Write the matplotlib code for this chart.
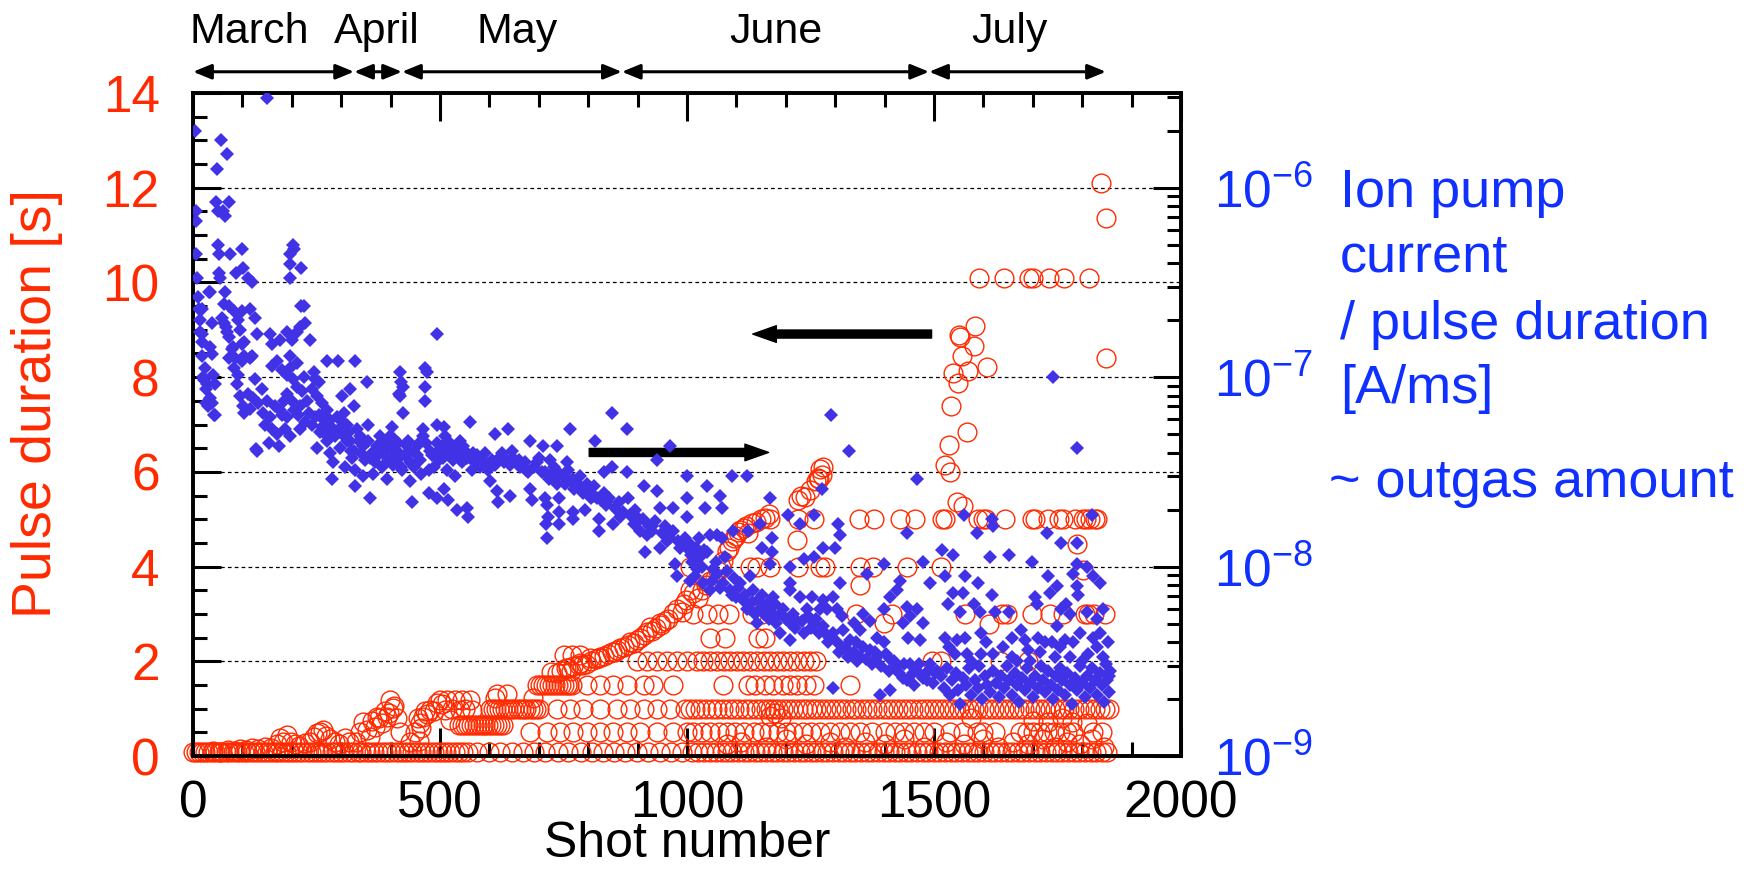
import matplotlib.pyplot as plt
import numpy as np
from matplotlib.ticker import MultipleLocator, FixedLocator, LogLocator, NullFormatter
import matplotlib.transforms as mtransforms

# ---- data ----
# ion pump current / pulse duration, in units of 1e-9 A/ms : (shot, value)
blue_march = [(4, 2000), (56, 1780), (68, 1500), (48, 1260), (150, 2990), (5, 750), (5, 668), (47, 841),
              (50, 750), (60, 750), (65, 708), (73, 841), (6, 447), (50, 501), (52, 447), (75, 447), (99, 473),
              (8, 335), (52, 355), (54, 335), (87, 355), (102, 376), (112, 335), (119, 316), (33, 282),
              (196, 398), (196, 447), (202, 501), (204, 473), (219, 376), (196, 335), (219, 237),
              (11, 266), (34, 282), (65, 282), (18, 230), (14, 200), (18, 168), (18, 154), (34, 145), (38, 133),
              (18, 130), (24, 112), (21, 100), (28, 91.7), (34, 77.2), (31, 70.8), (45, 63.1), (41, 103),
              (62, 244), (72, 237), (82, 224), (99, 224), (115, 230), (126, 205), (92, 200), (62, 194), (68, 173),
              (95, 178), (38, 194), (78, 141), (99, 150), (85, 126), (99, 122), (115, 126), (129, 168), (156, 168),
              (159, 150), (176, 158), (190, 173), (200, 158), (210, 173), (217, 183), (227, 194), (224, 237),
              (237, 158), (82, 112), (92, 103), (88, 91.7), (95, 79.4), (102, 70.8), (112, 81.8), (126, 97.2),
              (122, 77.2), (132, 72.9), (142, 65), (146, 56.2), (156, 61.4), (159, 53.1), (153, 44.7), (173, 43.5),
              (129, 41), (170, 50.1), (176, 66.8), (190, 61.4), (186, 53.1), (196, 48.7), (139, 86.6), (159, 115),
              (170, 122), (180, 109), (190, 103), (196, 112), (203, 97.2), (210, 119), (196, 130), (190, 81.8),
              (200, 75), (210, 89.1), (220, 84.1), (217, 70.8), (217, 53.1), (227, 57.8), (230, 75), (240, 86.6),
              (247, 97.2), (224, 100), (244, 106), (254, 94.4), (250, 79.4), (261, 72.9), (271, 66.8), (271, 122),
              (294, 122), (318, 86.6), (301, 79.4), (247, 61.4), (261, 54.6), (250, 42.2), (271, 46), (278, 59.6),
              (284, 53.1), (291, 61.4), (305, 65), (311, 56.2), (301, 50.1), (278, 39.8), (284, 35.5), (281, 29),
              (308, 33.5), (298, 42.2), (318, 46), (325, 41), (325, 70.8),
              (12, 230), (58, 205), (67, 183), (73, 163), (15, 173), (81, 145), (104, 154), (73, 126), (104, 130),
              (119, 130), (23, 97), (44, 92), (27, 87), (38, 73), (27, 73), (42, 63), (104, 65), (115, 68),
              (127, 42), (150, 75), (165, 70.8), (180, 63.1), (185, 75), (205, 66.8), (212, 63.1), (235, 65),
              (240, 56.2), (255, 63.1), (258, 51.6), (265, 59.6), (268, 50.1), (275, 56.2), (288, 48.7),
              (295, 53.1), (300, 59.6), (312, 46), (315, 51.6), (320, 41), (322, 37.6)]
blue_april = [(328, 122), (331, 53.1), (338, 48.7), (345, 43.5), (328, 32.5), (328, 26.6), (345, 29.9),
              (358, 23), (365, 30.8), (358, 37.6), (355, 56.2), (372, 43.5), (379, 48.7), (385, 39.8),
              (382, 33.5), (392, 29), (402, 54.6), (406, 47.3), (412, 41), (416, 37.6), (419, 106), (421, 94),
              (417, 81.8), (352, 94.4), (399, 48.7), (355, 46), (419, 79.4), (335, 46), (340, 39.8), (348, 36.5),
              (362, 40), (368, 35.5), (375, 38.7), (388, 44.7), (395, 36.5), (398, 42.2), (405, 34.5),
              (410, 38.7), (415, 44.7), (420, 33.5)]
blue_may = [(426, 89.1), (426, 65), (423, 32.5), (439, 28.2), (443, 21.8), (433, 43.5), (439, 35.5), (453, 43.5),
            (453, 38.7), (466, 48.7), (470, 112), (473, 106), (470, 89.1), (470, 75), (466, 53.1), (477, 32.5),
            (477, 24.4), (480, 41), (493, 168), (493, 56.2), (493, 44.7), (493, 23),
            (430, 38.7), (436, 46), (445, 41), (448, 33.5), (458, 44.7), (460, 36.5), (462, 30.8), (472, 44.7),
            (484, 38.7), (488, 33.5), (496, 41), (498, 36.5),
            (507, 54.6), (510, 48.7), (503, 43.5), (520, 44.7), (534, 41), (540, 46), (547, 43.5), (561, 57.8),
            (567, 39.8), (554, 37.6), (527, 36.5), (514, 32.5), (530, 29.9), (507, 25.8), (517, 22.4), (534, 20),
            (554, 20.5), (557, 18.3), (544, 35.5), (564, 32.5), (571, 35.5), (591, 39.8), (584, 35.5),
            (598, 32.5), (601, 28.2), (615, 25.1), (618, 21.8), (611, 50.1), (638, 53.1), (625, 39.8),
            (635, 36.5), (645, 41), (642, 34.5), (655, 35.5), (662, 33.5), (672, 35.5), (679, 31.6), (682, 25.8),
            (686, 22.4), (642, 23.7), (682, 46), (696, 35.5), (706, 31.6), (709, 43.5), (713, 23), (716, 21.1),
            (719, 18.3), (716, 14.1), (715, 16.8), (723, 36.5), (730, 33.5), (736, 43.5), (743, 30.8),
            (736, 27.4), (740, 23), (740, 19.4), (740, 16.8), (756, 35.5), (760, 32.5), (763, 53.1), (770, 29),
            (770, 19.4), (770, 17.8), (777, 26.6), (784, 29.9), (790, 24.4), (797, 27.4), (794, 20), (811, 26.6),
            (814, 46), (817, 23), (821, 17.8), (821, 15.4), (831, 31.6), (831, 24.4), (837, 21.8), (848, 33.5),
            (848, 65), (851, 16.8), (858, 20), (864, 18.3),
            (505, 37.6), (512, 41), (522, 38.7), (530, 42.2), (538, 37.6), (550, 41), (560, 37.6), (575, 38.7),
            (580, 33.5), (590, 35.5), (605, 36.5), (612, 34.5), (620, 37.6), (630, 35.5), (648, 37.6),
            (660, 36.5), (668, 33.5), (675, 32.5), (690, 33.5), (700, 37.6), (712, 31.6), (720, 29), (728, 31.6),
            (735, 30.8), (748, 29.9), (752, 27.4), (765, 28.2), (772, 25.8), (780, 27.4), (788, 25.1),
            (800, 25.1), (805, 23), (812, 23.7), (825, 22.4), (835, 21.1), (842, 23), (855, 20.5), (862, 21.8)]
blue_june = [(870, 19.4), (885, 18.8), (895, 20), (900, 17.3), (910, 17.8), (922, 16.3), (930, 15.4),
             (935, 17.3), (950, 15), (955, 16.3), (965, 14.1), (982, 13.7), (990, 13.3), (995, 14.1),
             (878, 53.1), (878, 31.6), (881, 23), (892, 16.8), (898, 18.3), (905, 15.4), (912, 26.6), (918, 14.6),
             (915, 11.9), (929, 16.3), (939, 25.1), (939, 36.5), (946, 12.6), (946, 20.5), (959, 13.7),
             (966, 43.5), (972, 15.4), (972, 20.5), (976, 10.3), (979, 8.91), (986, 12.6), (1000, 12.6),
             (1000, 23), (1000, 29.9), (1000, 18.3),
             (1040, 26.6), (1067, 23.7), (1090, 29.9), (1121, 29.9), (1036, 20.5), (1070, 20.5), (1168, 23),
             (1205, 18.8), (1229, 16.8), (1256, 18.8), (1273, 25.8), (1306, 16.8), (1445, 15), (1047, 14.6),
             (1060, 14.6), (1070, 14.1), (1094, 15.4), (1124, 15.4), (1148, 16.8), (1151, 12.6), (1171, 14.1),
             (1171, 11.9), (1209, 10), (1236, 10.9), (1256, 11.2), (1276, 12.6), (1300, 12.6), (1310, 14.6),
             (1013, 12.2), (1026, 11.2), (1020, 9.72), (1006, 8.41), (1033, 8.18), (1046, 7.5), (1053, 9.72),
             (1077, 11.2), (1060, 9.17), (1073, 8.18), (1087, 7.5), (1107, 8.18), (1100, 6.88), (1114, 6.68),
             (1134, 7.5), (1144, 6.68), (1127, 5.96), (1148, 5.96), (1161, 6.31), (1175, 6.88), (1165, 5.31),
             (1141, 5.01), (1181, 5.01), (1188, 4.47), (1209, 5.01), (1209, 8.18), (1229, 6.88), (1222, 5.16),
             (1242, 5.96), (1256, 5.01), (1209, 4.1), (1236, 4.47), (1276, 4.87), (1283, 5.96), (1276, 6.68),
             (1296, 6.88), (1303, 5.96), (1310, 8.18), (1313, 5.46), (1290, 4.22), (1303, 3.98), (1316, 4.6),
             (1330, 4.1), (1343, 3.98), (1350, 4.6), (1330, 3.45), (1350, 3.35), (1370, 3.65), (1384, 3.35),
             (1398, 3.98), (1411, 3.25), (1425, 2.99), (1438, 2.58), (1452, 3.07), (1465, 2.82), (1478, 2.58),
             (1391, 2.11), (1411, 2.24), (1296, 2.30), (1337, 5.01), (1357, 5.62), (1370, 5.16), (1398, 5.96),
             (1411, 6.88), (1425, 7.5), (1431, 8.41), (1398, 10.3), (1364, 9.17), (1445, 6.13), (1452, 5.46),
             (1465, 5.96), (1478, 5.01), (1478, 10.6), (1448, 4.22), (1472, 4.1), (1438, 5.01), (1384, 4.22),
             (1168, 10.3), (1209, 7.5), (1127, 8.91), (1252, 6.88), (1269, 5.96), (1291, 63.1), (1327, 41),
             (1466, 29),
             (1003, 13.3), (1008, 11.5), (1018, 12.6), (1024, 14.1), (1035, 12.2),
             (1010, 10.6), (1016, 8.91), (1030, 10), (1040, 11.9), (1050, 8.41), (1058, 10.6), (1066, 7.72),
             (1080, 9.44), (1090, 7.08), (1096, 8.66), (1104, 7.72), (1118, 7.08), (1122, 5.96), (1132, 6.49),
             (1138, 5.62), (1152, 7.08), (1156, 5.62), (1170, 5.79), (1178, 6.31), (1185, 5.46), (1195, 5.96),
             (1200, 5.31), (1215, 5.62), (1218, 4.73), (1232, 5.16), (1245, 5.46), (1250, 4.73), (1262, 5.31),
             (1268, 4.47), (1280, 4.47), (1285, 3.98), (1295, 4.47), (1308, 3.55), (1320, 3.76), (1325, 3.35),
             (1338, 3.55), (1345, 3.16), (1356, 3.76), (1362, 3.25), (1375, 3.07), (1380, 3.55), (1392, 2.99),
             (1402, 3.45), (1408, 2.82), (1418, 3.16), (1430, 2.74), (1440, 3.07), (1446, 2.51), (1458, 2.74),
             (1460, 2.37), (1470, 3.07), (1485, 2.51), (1488, 2.82)]
blue_july = [(1492, 3.07), (1506, 2.82), (1492, 8.18), (1498, 2.44), (1502, 2.74), (1741, 100), (1790, 42.2),
             (1561, 18.8), (1617, 17.8), (1586, 15), (1620, 16.3), (1728, 15), (1758, 13.3), (1789, 13.3),
             (1819, 18.8), (1538, 11.5), (1613, 11.2), (1652, 11.5), (1698, 10.6), (1790, 10.3), (1516, 12.2),
             (1522, 8.91), (1563, 8.91), (1590, 8.18), (1539, 7.29), (1559, 7.29), (1617, 7.08), (1580, 6.31),
             (1529, 6.31), (1552, 5.79), (1593, 5.79), (1623, 5.79), (1652, 5.79), (1782, 9.17), (1809, 10),
             (1822, 8.91), (1836, 8.18), (1731, 8.91), (1748, 7.94), (1735, 7.29), (1789, 7.94), (1792, 7.08),
             (1704, 6.88), (1708, 6.31), (1768, 6.31), (1758, 5.96), (1748, 4.87), (1775, 5.62), (1809, 5.79),
             (1829, 5.31), (1843, 5.96), (1596, 4.47), (1522, 4.22), (1546, 4.1), (1563, 4.22), (1657, 4.22),
             (1677, 4.6), (1684, 4.1), (1691, 3.65), (1711, 4.22), (1738, 3.98), (1765, 4.1), (1782, 3.98),
             (1796, 4.47), (1822, 4.22), (1836, 4.47), (1542, 3.45), (1566, 3.45), (1596, 3.45), (1620, 3.45),
             (1657, 3.35), (1715, 3.55), (1745, 3.35), (1775, 3.35), (1812, 3.45), (1843, 3.35),
             (1530, 3.76), (1575, 3.16), (1605, 3.98), (1640, 3.76), (1668, 3.16), (1695, 3.16), (1725, 3.98),
             (1755, 3.76), (1800, 3.16), (1830, 3.76), (1852, 3.98), (1855, 2.66),
             (1515, 2.66), (1520, 2.30), (1526, 2.9), (1532, 2.11), (1536, 2.51), (1544, 2.74), (1548, 2.24),
             (1553, 1.88), (1558, 2.58), (1565, 2.37), (1570, 2.9), (1575, 2.11), (1582, 2.51), (1588, 2.30),
             (1592, 2.99), (1598, 2.0), (1603, 2.66), (1608, 2.37), (1614, 2.17), (1620, 2.82), (1626, 2.44),
             (1632, 2.05), (1636, 2.66), (1642, 2.30), (1648, 2.99), (1652, 2.51), (1658, 2.11), (1663, 2.74),
             (1668, 2.37), (1673, 1.94), (1678, 2.58), (1684, 2.24), (1688, 2.9), (1694, 2.44), (1700, 2.05),
             (1705, 2.66), (1710, 2.30), (1716, 2.99), (1720, 2.51), (1725, 2.17), (1730, 2.82), (1736, 2.37),
             (1740, 2.0), (1746, 2.66), (1750, 2.24), (1756, 2.9), (1760, 2.51), (1765, 2.11), (1770, 2.74),
             (1776, 2.37), (1780, 1.88), (1785, 2.58), (1790, 2.24), (1795, 2.99), (1800, 2.44), (1805, 2.05),
             (1810, 2.66), (1815, 2.30), (1820, 2.9), (1825, 2.51), (1830, 2.11), (1835, 2.74), (1840, 2.37),
             (1845, 1.94), (1850, 2.51), (1854, 2.17), (1856, 2.82), (1848, 3.07)]

# pulse duration [s] : off-level shots as (shot, seconds)
pulse_ramp = [(40, 0.1), (55, 0.08), (70, 0.12), (85, 0.1), (95, 0.15), (108, 0.12), (120, 0.18), (132, 0.15),
              (145, 0.2), (158, 0.18), (170, 0.25), (177, 0.39), (183, 0.3), (190, 0.44), (198, 0.3), (206, 0.25),
              (215, 0.22), (226, 0.28), (236, 0.3), (244, 0.4), (250, 0.48), (258, 0.5), (264, 0.55), (270, 0.42),
              (278, 0.35), (288, 0.3), (296, 0.25), (308, 0.39), (316, 0.3), (330, 0.3), (338, 0.5), (345, 0.72),
              (352, 0.55), (358, 0.41), (362, 0.75), (369, 0.62), (372, 0.83), (377, 0.8), (382, 0.7), (388, 0.95),
              (392, 0.83), (396, 0.9), (399, 1.18), (404, 1.02), (406, 1.05), (412, 0.81), (418, 0.5), (440, 0.3),
              (450, 0.5), (455, 0.8), (458, 0.32), (460, 0.69), (462, 0.6), (466, 0.83), (470, 0.95), (473, 0.88),
              (480, 0.97), (488, 0.95), (493, 1.11), (500, 1.18), (504, 1.09), (510, 0.97), (515, 1.18),
              (520, 0.76), (525, 1.0), (530, 1.18), (540, 0.97), (545, 1.18), (550, 1.0), (560, 1.18), (565, 0.97),
              (612, 1.23), (615, 1.3), (635, 1.3), (688, 1.23),
              (724, 1.78), (736, 1.75), (745, 1.8), (754, 1.85), (760, 1.85), (765, 1.79), (770, 1.9), (781, 1.93),
              (784, 1.96), (787, 1.93), (795, 1.95), (804, 2.08), (805, 2.0), (815, 2.05), (821, 2.06), (824, 2.1),
              (832, 2.12), (840, 2.15), (848, 2.2), (855, 2.2), (858, 2.24), (865, 2.28), (872, 2.3), (880, 2.35),
              (885, 2.4), (892, 2.38), (898, 2.45), (905, 2.49), (912, 2.55), (918, 2.62), (925, 2.73),
              (930, 2.63), (938, 2.7), (946, 2.8), (947, 2.77), (955, 2.85), (962, 2.9), (972, 3.01), (980, 3.1),
              (989, 3.05), (993, 3.22), (998, 3.3), (1006, 3.5), (1012, 3.45), (1023, 3.34), (1030, 3.5),
              (1039, 3.62), (1046, 3.7), (1056, 3.76), (1062, 3.9), (1068, 4.0), (1073, 4.11), (1081, 4.33),
              (1085, 4.4), (1090, 4.54), (1095, 4.6), (1100, 4.65), (1103, 4.72), (1107, 4.77), (1115, 4.82),
              (1120, 4.85), (1124, 4.7), (1132, 4.93), (1140, 4.95), (1150, 5.0), (1157, 5.03), (1165, 5.1),
              (1223, 4.56), (1225, 5.4), (1231, 5.5), (1239, 5.47), (1249, 5.62), (1262, 5.8), (1268, 5.85),
              (1273, 5.93), (1276, 6.1), (1270, 6.07), (1266, 5.88), (750, 2.13), (767, 2.13), (784, 2.13),
              (1350, 3.61), (1398, 2.8), (1612, 2.78), (1789, 4.48), (1802, 3.93),
              (1837, 12.1), (1848, 11.35), (1848, 8.4), (1582, 9.07), (1550, 8.9), (1552, 8.85), (1580, 8.65),
              (1556, 8.45), (1607, 8.22), (1569, 8.13), (1538, 8.08), (1549, 7.87), (1534, 7.4), (1566, 6.85),
              (1531, 6.57), (1522, 6.14), (1532, 6.0), (1546, 5.37), (1559, 5.28),
              (1168, 0.85), (1178, 0.9), (1190, 0.8), (1080, 0.25), (1110, 0.3), (1160, 0.2), (1200, 0.35),
              (1240, 0.25), (1290, 0.3), (1320, 0.2), (1360, 0.3), (1400, 0.25), (1440, 0.35), (1480, 0.2),
              (1525, 0.3), (1560, 0.25), (1600, 0.35), (1630, 0.2), (1660, 0.3), (1690, 0.25), (1720, 0.35),
              (1745, 0.2), (1770, 0.3), (1795, 0.25), (1820, 0.35), (1845, 0.2), (1575, 0.8), (1700, 0.75),
              (1760, 0.8), (1810, 0.7), (1730, 0.72), (1780, 0.72)]

# shots that sit on the fixed pulse lengths
shots_at_short = [0, 6, 12, 18, 25, 31, 38, 45, 52, 58, 66, 73, 80, 88, 95, 103, 110, 118, 126, 133, 141, 149,
                  157, 165, 172, 180, 188, 196, 205, 213, 221, 230, 238, 247, 255, 263, 272, 281, 290, 298, 306,
                  315, 324, 333, 341, 350, 358, 366, 375, 384, 392, 401, 410, 419, 428, 436, 444, 453, 461, 470,
                  478, 487, 495, 504, 512, 521, 530, 538, 547, 556, 575, 600, 622, 645, 668, 690, 712, 738, 760,
                  785, 808, 830, 852, 875, 898, 920, 945, 968, 990, 1010, 1022, 1035, 1046, 1058, 1070, 1080,
                  1092, 1103, 1115, 1126, 1137, 1148, 1160, 1171, 1182, 1194, 1205, 1216, 1228, 1239, 1250, 1262,
                  1273, 1284, 1296, 1307, 1318, 1330, 1341, 1352, 1364, 1375, 1386, 1398, 1409, 1420, 1432, 1443,
                  1454, 1466, 1477, 1488, 1500, 1511, 1522, 1534, 1545, 1556, 1568, 1579, 1590, 1602, 1613, 1624,
                  1636, 1647, 1658, 1670, 1681, 1692, 1704, 1715, 1726, 1738, 1749, 1760, 1772, 1783, 1794, 1806,
                  1817, 1828, 1840, 1851]
shots_at_half = [682, 716, 743, 770, 797, 824, 851, 878, 905, 939, 972, 1000, 1013, 1030, 1047, 1064, 1081, 1098,
                 1115, 1135, 1150, 1165, 1185, 1200, 1215, 1235, 1250, 1270, 1290, 1310, 1330, 1350, 1375, 1400,
                 1420, 1440, 1460, 1480, 1500, 1532, 1559, 1586, 1600, 1623, 1674, 1688, 1701, 1715, 1728, 1742,
                 1755, 1769, 1782, 1822, 1840]
shots_at_065 = [538, 544, 550, 556, 562, 568, 574, 580, 586, 592, 598, 604, 610, 616, 622, 628]
shots_at_1s = [601, 607, 613, 619, 625, 632, 638, 644, 650, 657, 663, 669, 675, 682, 688, 694, 700, 736, 763, 790,
               824, 858, 885, 912, 939, 966, 996, 1006, 1016, 1026, 1038, 1050, 1060, 1072, 1084, 1095, 1105,
               1118, 1128, 1140, 1150, 1160, 1168, 1176, 1185, 1195, 1205, 1214, 1224, 1234, 1243, 1253, 1262,
               1272, 1282, 1292, 1302, 1312, 1322, 1333, 1343, 1354, 1364, 1374, 1385, 1396, 1406, 1416, 1427,
               1437, 1448, 1458, 1469, 1480, 1490, 1500, 1510, 1520, 1530, 1540, 1550, 1560, 1570, 1580, 1590,
               1602, 1612, 1622, 1632, 1642, 1652, 1662, 1672, 1682, 1694, 1704, 1714, 1724, 1734, 1744, 1754,
               1764, 1774, 1784, 1794, 1806, 1816, 1826, 1836, 1846, 1855]
shots_at_1p5s = [696, 702, 708, 714, 720, 726, 732, 738, 744, 750, 756, 762, 768, 797, 824, 851, 878, 912, 932,
                 972, 1073, 1124, 1138, 1158, 1175, 1195, 1209, 1222, 1240, 1258, 1330]
shots_at_2s = [898, 918, 939, 959, 979, 1000, 1020, 1033, 1047, 1060, 1074, 1087, 1101, 1114, 1128, 1141, 1155,
               1168, 1182, 1195, 1209, 1222, 1236, 1249, 1262, 1495, 1515, 1633, 1691]
shots_at_2p5s = [1046, 1077, 1144, 1158]
shots_at_3s = [1013, 1040, 1063, 1084, 1131, 1151, 1343, 1414, 1563, 1637, 1647, 1698, 1735, 1762, 1806, 1812,
               1823, 1846]
shots_at_4s = [1006, 1127, 1141, 1168, 1225, 1269, 1279, 1350, 1377, 1445, 1515]
shots_at_5s = [1168, 1224, 1257, 1349, 1379, 1431, 1462, 1517, 1522, 1590, 1600, 1606, 1644, 1699, 1704, 1730,
               1752, 1762, 1785, 1802, 1808, 1816, 1825, 1829]
shots_at_10s = [1592, 1642, 1693, 1701, 1733, 1764, 1814]

months = ['March', 'April', 'May', 'June', 'July']
month_edges = [0, 326, 423, 868, 1490, 1848]
month_label_x = [113, 372, 656, 1180, 1652]

RED = '#ff2a00'
BLUE = '#4232e6'
BLUE_TXT = '#1030ff'

plt.rcParams['font.family'] = ['Liberation Sans', 'DejaVu Sans']
plt.rcParams['mathtext.default'] = 'regular'

fig = plt.figure(figsize=(17.63, 8.69), dpi=100)
ax = fig.add_axes([0.1095, 0.130, 0.5604, 0.763])
ax2 = ax.twinx()

# red: pulse duration
levels = [(shots_at_short, 0.08), (shots_at_half, 0.5), (shots_at_065, 0.65), (shots_at_1s, 1.0),
          (shots_at_1p5s, 1.5), (shots_at_2s, 2.0), (shots_at_2p5s, 2.5), (shots_at_3s, 3.0),
          (shots_at_4s, 4.0), (shots_at_5s, 5.0), (shots_at_10s, 10.1)]
red_x = [s for s, _ in pulse_ramp]
red_y = [d for _, d in pulse_ramp]
for shots, dur in levels:
    red_x += shots
    red_y += [dur] * len(shots)
ax.plot(red_x, red_y, 'o', ms=13.5, mfc='none', mec=RED, mew=1.0, ls='none', clip_on=False, zorder=3)

# blue: ion pump current / pulse duration
blue = blue_march + blue_april + blue_may + blue_june + blue_july
bx = np.array([p[0] for p in blue])
by = np.array([p[1] for p in blue]) * 1e-9
ax2.plot(bx, by, 'D', ms=7, color=BLUE, mew=0, ls='none', zorder=3)

# axes
ax.set_xlim(0, 2000)
ax.set_ylim(0, 14)
ax2.set_yscale('log')
ax2.set_ylim(1e-9, 10 ** -5.5)

ax.xaxis.set_major_locator(MultipleLocator(500))
ax.xaxis.set_minor_locator(MultipleLocator(100))
ax.yaxis.set_major_locator(MultipleLocator(2))
ax.yaxis.set_minor_locator(MultipleLocator(0.5))
ax.tick_params(which='both', direction='in', top=True, width=2.2)
ax.tick_params(which='major', length=20)
ax.tick_params(which='minor', length=10)
ax.tick_params(axis='x', labelsize=37, pad=17)
ax.tick_params(axis='y', labelsize=37, pad=24, labelcolor=RED)

ax2.yaxis.set_major_locator(FixedLocator([1e-9, 1e-8, 1e-7, 1e-6]))
ax2.set_yticklabels([r'$10^{-9}$', r'$10^{-8}$', r'$10^{-7}$', r'$10^{-6}$'])
ax2.yaxis.set_minor_locator(LogLocator(base=10, subs=np.arange(2, 10)))
ax2.yaxis.set_minor_formatter(NullFormatter())
ax2.tick_params(which='both', direction='in', width=2.2)
ax2.tick_params(which='major', length=20, labelsize=37, pad=24, labelcolor=BLUE_TXT)
ax2.tick_params(which='minor', length=10)

ax.yaxis.grid(True, which='major', ls=(0, (3, 2.5)), color='k', lw=0.9)
for a in (ax, ax2):
    for sp in a.spines.values():
        sp.set_linewidth(2.6)

# month spans above the plot
trans = mtransforms.blended_transform_factory(ax.transData, ax.transAxes)
for i, name in enumerate(months):
    ax.annotate('', xy=(month_edges[i + 1], 1.032), xytext=(month_edges[i], 1.032),
                xycoords=trans, textcoords=trans, annotation_clip=False,
                arrowprops=dict(arrowstyle='<|-|>,head_length=1.1,head_width=0.45', mutation_scale=10,
                                lw=2.2, color='k', shrinkA=0, shrinkB=0))
    ax.text(month_label_x[i], 1.075, name, transform=trans, ha='center', va='baseline', fontsize=31)

# trend arrows
ax.annotate('', xy=(1133, 8.91), xytext=(1495, 8.91),
            arrowprops=dict(facecolor='k', edgecolor='k', width=5.8, headwidth=12, headlength=17, shrink=0))
ax.annotate('', xy=(1165, 6.41), xytext=(802, 6.41),
            arrowprops=dict(facecolor='k', edgecolor='k', width=5.8, headwidth=12, headlength=17, shrink=0))

# labels
fig.text(0.021, 0.536, 'Pulse duration [s]', rotation=90, color=RED, fontsize=40, ha='center', va='center')
fig.text(0.3897, 0.0135, 'Shot number', ha='center', va='baseline', fontsize=36)
for txt, yb in [('Ion pump', 0.7618), ('current', 0.687), ('/ pulse duration', 0.610), ('[A/ms]', 0.5363)]:
    fig.text(0.760, yb, txt, color=BLUE_TXT, fontsize=39, va='baseline')
fig.text(0.7538, 0.428, '~ outgas amount', color=BLUE_TXT, fontsize=39, va='baseline')

fig.savefig('out.png', dpi=100)
